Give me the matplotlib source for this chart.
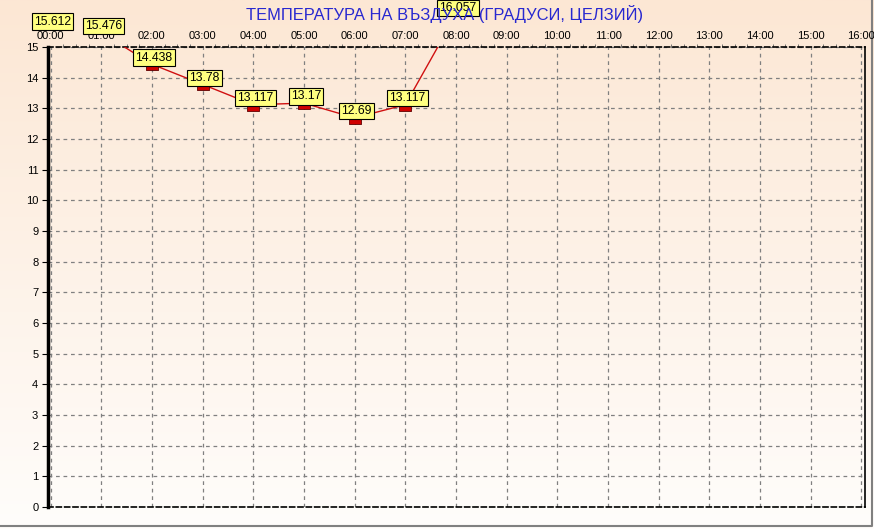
import matplotlib
matplotlib.use('Agg')
import matplotlib.pyplot as plt
import numpy as np

plt.rcParams['font.family'] = ['Liberation Sans', 'DejaVu Sans']

# data
hours = [0, 1, 2, 3, 4, 5, 6, 7, 8]
temps = [15.612, 15.476, 14.438, 13.78, 13.117, 13.17, 12.69, 13.117, 16.057]
xticklabels = [f'{h:02d}:00' for h in range(17)]

fig = plt.figure(figsize=(8.74, 5.29), dpi=100)

# background gradient (peach at top -> near white at bottom)
bg = fig.add_axes([0, 0, 1, 1], zorder=-10)
grad = np.linspace(0, 1, 256).reshape(-1, 1)
top = np.array([252, 231, 212]) / 255
bot = np.array([255, 253, 251]) / 255
img = top * (1 - grad[..., None]) + bot * grad[..., None]
bg.imshow(img, aspect='auto', extent=[0, 1, 0, 1])
bg.plot([0, 0.998, 0.998], [0.006, 0.006, 1], color='#808080', lw=1.5)
bg.set_xlim(0, 1)
bg.set_ylim(0, 1)
bg.axis('off')

W, H = 874, 529
ax = fig.add_axes([48 / W, 1 - 507 / H, (865 - 48) / W, (507 - 47) / H])
ax.patch.set_alpha(0)

ax.plot(hours, temps, color='#d01010', lw=1, zorder=3)
marker = [(-1, -0.1), (1, -0.1), (1, -1.0), (-1, -1.0), (-1, -0.1)]
ax.plot(hours, temps, ls='none', marker=marker, ms=9, mfc='#d00000',
        mec='#600000', mew=0.6, zorder=4)

ax.set_xlim(-0.05, 16.07)
ax.set_ylim(0, 15)

fig.text(445 / W, 1 - 14 / H, 'ТЕМПЕРАТУРА НА ВЪЗДУХА (ГРАДУСИ, ЦЕЛЗИЙ)',
         ha='center', va='center', fontsize=11.9, color='#2828d0', zorder=1)

# value labels (yellow boxes) just above each point
for h, t in zip(hours, temps):
    ax.annotate(f'{t:g}', (h, t), xytext=(1.5, 0.5), textcoords='offset points',
                ha='center', va='bottom', fontsize=8.8, annotation_clip=False,
                bbox=dict(boxstyle='square,pad=0.18', fc='#ffff80', ec='black', lw=0.8),
                zorder=6)

ax.set_yticks(range(16))
ax.set_xticks(range(17))
ax.set_xticklabels(xticklabels)
ax.set_xticks(np.arange(0, 16.01, 0.25), minor=True)
ax.xaxis.tick_top()
ax.tick_params(axis='x', which='major', length=0, pad=4, labelsize=8)
ax.tick_params(axis='x', which='minor', length=2, direction='out', color='#606060')
ax.tick_params(axis='y', length=4, labelsize=8, pad=3)
ax.grid(True, color='#808080', ls=(0, (3, 3)), lw=0.9)

ax.spines['left'].set_linewidth(2.5)
for s in ['top', 'bottom']:
    ax.spines[s].set_linestyle((0, (3, 2)))
    ax.spines[s].set_linewidth(1.2)
ax.spines['right'].set_linewidth(1.2)

fig.savefig('out.png', dpi=100)
